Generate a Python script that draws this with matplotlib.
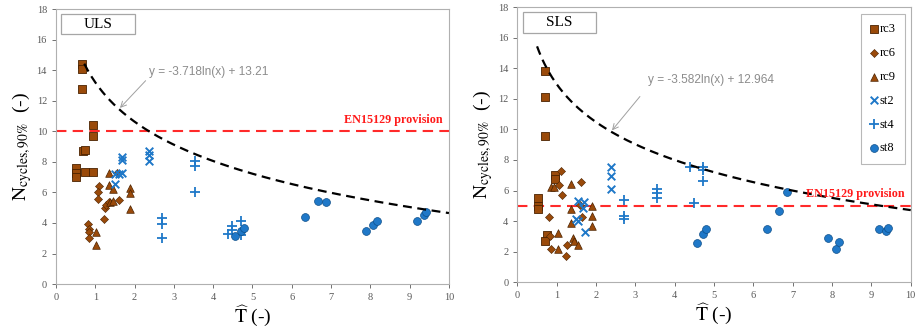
import numpy as np
import matplotlib
matplotlib.use("Agg")
from matplotlib import pyplot as plt
from matplotlib.patches import Rectangle

plt.rcParams["font.family"] = ["Liberation Serif", "DejaVu Serif"]
plt.rcParams["mathtext.fontset"] = "stix"

# ---- data ----
series_names = ["rc3", "rc6", "rc9", "st2", "st4", "st8"]

# ULS panel
uls_rc3_x = [0.5, 0.5, 0.5, 0.67, 0.67, 0.67, 0.70, 0.75, 0.73, 0.95, 0.95, 0.95]
uls_rc3_y = [7.6, 7.3, 7.0, 14.4, 14.1, 12.8, 8.7, 8.8, 7.35, 10.4, 9.7, 7.35]
uls_rc6_x = [0.81, 0.83, 0.83, 0.83, 1.09, 1.08, 1.06, 1.22, 1.25, 1.27, 1.36, 1.60, 1.56]
uls_rc6_y = [3.95, 3.6, 3.4, 3.0, 6.45, 6.05, 5.6, 4.25, 5.0, 5.2, 5.4, 5.5, 7.25]
uls_rc9_x = [1.01, 1.01, 1.34, 1.34, 1.46, 1.38, 1.44, 1.88, 1.88, 1.88]
uls_rc9_y = [3.4, 2.55, 7.3, 6.5, 6.25, 5.4, 5.45, 6.3, 5.95, 4.9]
uls_st2_x = [1.5, 1.5, 1.6, 1.69, 1.69, 1.69, 2.36, 2.36, 2.36]
uls_st2_y = [6.55, 7.2, 7.2, 7.25, 8.3, 8.15, 8.7, 8.45, 8.05]
uls_st4_x = [2.70, 2.70, 2.70, 3.54, 3.54, 3.54, 4.39, 4.48, 4.48, 4.70, 4.70]
uls_st4_y = [4.3, 3.95, 3.0, 8.05, 7.7, 6.05, 3.25, 3.8, 3.55, 4.1, 3.2]
uls_st8_x = [4.56, 4.71, 4.78, 6.34, 6.66, 6.86, 7.90, 8.08, 8.17, 9.19, 9.37, 9.42]
uls_st8_y = [3.15, 3.45, 3.65, 4.4, 5.45, 5.4, 3.5, 3.85, 4.1, 4.15, 4.5, 4.7]

# SLS panel
sls_rc3_x = [0.52, 0.52, 0.52, 0.69, 0.69, 0.69, 0.96, 0.96, 0.75, 0.71]
sls_rc3_y = [5.5, 5.0, 4.8, 13.85, 12.15, 9.55, 7.0, 6.75, 3.1, 2.7]
sls_rc6_x = [0.81, 0.83, 0.85, 1.11, 1.07, 1.13, 1.23, 1.27, 1.61, 1.64, 1.58]
sls_rc6_y = [4.25, 3.0, 2.15, 7.3, 6.35, 5.7, 1.7, 2.4, 6.55, 4.28, 5.05]
sls_rc9_x = [0.86, 0.94, 1.03, 1.03, 1.36, 1.36, 1.36, 1.42, 1.44, 1.53, 1.89, 1.89, 1.89]
sls_rc9_y = [6.2, 6.2, 3.2, 2.2, 6.45, 4.8, 3.85, 2.9, 2.7, 2.45, 5.0, 4.3, 3.7]
sls_st2_x = [1.53, 1.50, 1.54, 1.69, 1.68, 1.72, 2.37, 2.37, 2.37]
sls_st2_y = [5.32, 4.15, 3.97, 5.25, 4.84, 3.3, 7.55, 6.98, 6.12]
sls_st4_x = [2.71, 2.71, 2.71, 3.56, 3.56, 3.56, 4.39, 4.50, 4.72, 4.72, 4.72]
sls_st4_y = [5.35, 4.33, 4.15, 6.12, 5.82, 5.48, 7.53, 5.17, 7.52, 7.32, 6.65]
sls_st8_x = [4.57, 4.72, 4.79, 6.34, 6.66, 6.85, 7.90, 8.09, 8.17, 9.19, 9.36, 9.43]
sls_st8_y = [2.53, 3.12, 3.51, 3.51, 4.69, 5.87, 2.86, 2.14, 2.62, 3.45, 3.34, 3.53]

# trend lines y = a ln(x) + b and code limits
uls_fit = (-3.718, 13.21)
sls_fit = (-3.582, 12.964)
uls_fit_start = 0.72
sls_fit_start = 0.5
uls_limit = 10
sls_limit = 5

panels = [
    {
        "title": "ULS",
        "xs": [uls_rc3_x, uls_rc6_x, uls_rc9_x, uls_st2_x, uls_st4_x, uls_st8_x],
        "ys": [uls_rc3_y, uls_rc6_y, uls_rc9_y, uls_st2_y, uls_st4_y, uls_st8_y],
        "fit": uls_fit, "start": uls_fit_start, "limit": uls_limit,
        "eq": "y = -3.718ln(x) + 13.21", "eq_xy": (2.38, 13.9),
        "arrow": ((2.33, 13.45), (1.58, 11.4)),
    },
    {
        "title": "SLS",
        "xs": [sls_rc3_x, sls_rc6_x, sls_rc9_x, sls_st2_x, sls_st4_x, sls_st8_x],
        "ys": [sls_rc3_y, sls_rc6_y, sls_rc9_y, sls_st2_y, sls_st4_y, sls_st8_y],
        "fit": sls_fit, "start": sls_fit_start, "limit": sls_limit,
        "eq": "y = -3.582ln(x) + 12.964", "eq_xy": (3.32, 13.25),
        "arrow": ((3.16, 12.3), (2.36, 9.8)),
    },
]

brown = "#9a4a0a"
brown_edge = "#4a2200"
blue = "#1f78c8"
blue_edge = "#0d4f8a"
styles = {
    "rc3": dict(marker="s", s=28, c=brown, edgecolors=brown_edge, linewidths=0.6),
    "rc6": dict(marker="D", s=17, c=brown, edgecolors=brown_edge, linewidths=0.4),
    "rc9": dict(marker="^", s=30, c=brown, edgecolors=brown_edge, linewidths=0.5),
    "st2": dict(marker="x", s=30, c=blue, linewidths=1.4),
    "st4": dict(marker="+", s=42, c=blue, linewidths=1.3),
    "st8": dict(marker="o", s=32, c=blue, edgecolors=blue_edge, linewidths=0.5),
}

fig = plt.figure(figsize=(9.19, 3.28), dpi=100)
rects = [[0.0609, 0.134, 0.4276, 0.838], [0.563, 0.140, 0.428, 0.8375]]

for p, rect in zip(panels, rects):
    ax = fig.add_axes(rect)
    for name, xs, ys in zip(series_names, p["xs"], p["ys"]):
        ax.scatter(xs, ys, label=name, zorder=3, **styles[name])

    # trendline
    a, b = p["fit"]
    xf = np.linspace(p["start"], 10, 200)
    ax.plot(xf, a * np.log(xf) + b, color="black", lw=1.6, ls=(0, (4, 2.5)), zorder=4)

    # EN15129 provision
    ax.axhline(p["limit"], color="#ff2a2a", lw=1.5, ls=(0, (5, 3)), zorder=2)
    ax.text(9.85, p["limit"] + 0.35, "EN15129 provision", color="#ff1a1a",
            fontsize=8.7, fontweight="bold", ha="right", va="bottom", zorder=5)

    # equation with arrow
    ax.text(p["eq_xy"][0], p["eq_xy"][1], p["eq"], color="#8c8c8c",
            family=["Liberation Sans", "DejaVu Sans"], fontsize=8.6, va="center")
    (x0, y0), (x1, y1) = p["arrow"]
    ax.annotate("", xy=(x1, y1), xytext=(x0, y0),
                arrowprops=dict(arrowstyle="->", color="#a0a0a0", lw=0.7))

    # title box
    ax.add_patch(Rectangle((0.14, 16.35), 1.86, 1.32, fill=False,
                           edgecolor="#a6a6a6", lw=0.9, zorder=5))
    ax.text(1.07, 17.0, p["title"], fontsize=11, ha="center", va="center")

    ax.set_xlim(0, 10)
    ax.set_ylim(0, 18)
    ax.set_xticks(range(0, 11))
    ax.set_yticks(range(0, 19, 2))
    ax.tick_params(labelsize=7.5, colors="#595959", length=3, width=0.6)
    for s in ax.spines.values():
        s.set_color("#b0b0b0")
        s.set_linewidth(0.8)
    ax.set_xlabel(r"$\widehat{\mathrm{T}}$ (-)", fontsize=14, labelpad=1)
    ax.set_ylabel(r"$\mathrm{N_{cycles,90\%}}$  (-)", fontsize=14, labelpad=2)

    if p["title"] == "SLS":
        leg = ax.legend(loc="upper right", bbox_to_anchor=(0.985, 0.977),
                        fontsize=9, labelspacing=0.95, handlelength=0.6,
                        handletextpad=0.15, borderpad=0.75, fancybox=False,
                        borderaxespad=0, scatterpoints=1)
        leg.get_frame().set_edgecolor("#a6a6a6")
        leg.get_frame().set_linewidth(0.8)

fig.savefig("out.png", dpi=100)
